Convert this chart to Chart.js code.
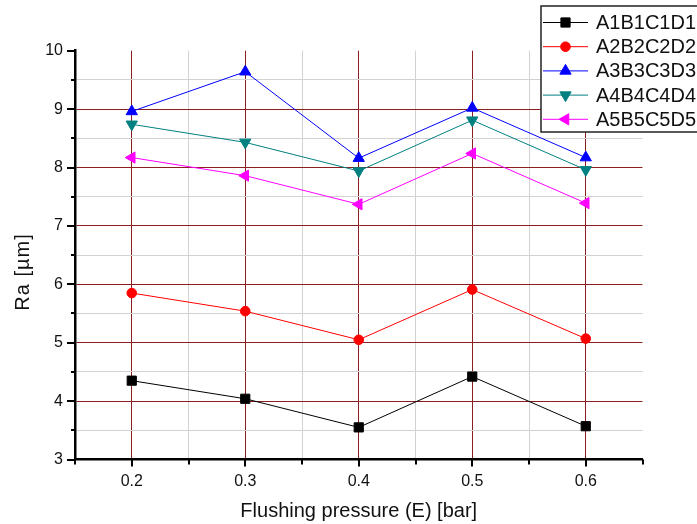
<!DOCTYPE html>
<html>
<head>
<meta charset="utf-8">
<script src="https://cdn.jsdelivr.net/npm/chart.js@4/dist/chart.umd.min.js"></script>
<style>
  html, body { margin: 0; padding: 0; background: #fff; }
</style>
</head>
<body>
<canvas id="raChart" width="697" height="524"></canvas>
<script>
// flushing pressure levels (bar)
const pressure = [0.2, 0.3, 0.4, 0.5, 0.6];

// Ra values per parameter combination
const seriesNames = ['A1B1C1D1', 'A2B2C2D2', 'A3B3C3D3', 'A4B4C4D4', 'A5B5C5D5'];
const raA1 = [4.35, 4.04, 3.55, 4.42, 3.57];
const raA2 = [5.85, 5.54, 5.05, 5.91, 5.07];
const raA3 = [8.96, 9.64, 8.16, 9.02, 8.17];
const raA4 = [8.74, 8.43, 7.94, 8.81, 7.96];
const raA5 = [8.17, 7.86, 7.37, 8.24, 7.39];

const xTicks = [0.15, 0.2, 0.25, 0.3, 0.35, 0.4, 0.45, 0.5, 0.55, 0.6, 0.65];
const yTicks = [3, 3.5, 4, 4.5, 5, 5.5, 6, 6.5, 7, 7.5, 8, 8.5, 9, 9.5, 10];

const FONT = "'Liberation Sans', Arial, sans-serif";
const MAJOR = '#8b1e1e';
const MINOR = '#d2d2d2';

const isTenth = v => Math.abs(v * 10 - Math.round(v * 10)) < 1e-6;
const isWhole = v => Math.abs(v - Math.round(v)) < 1e-6;

function makeSet(i, values, color, style, radius, rotation) {
    return {
        label: seriesNames[i],
        data: pressure.map((x, k) => ({ x: x, y: values[k] })),
        borderColor: color,
        backgroundColor: color,
        borderWidth: 1,
        pointStyle: style,
        pointRadius: radius,
        pointRotation: rotation,
        pointBorderWidth: 1,
        tension: 0
    };
}

// outward tick marks: long on labelled values, short in between
const axisTicks = {
    id: 'axisTicks',
    afterDraw(chart) {
        const ctx = chart.ctx;
        const xs = chart.scales.x, ys = chart.scales.y;
        const area = chart.chartArea;
        ctx.save();
        ctx.strokeStyle = '#000';
        ctx.lineWidth = 2;
        ctx.beginPath();
        xTicks.forEach(v => {
            const px = Math.round(xs.getPixelForValue(v));
            const len = isTenth(v) ? 7 : 5;
            ctx.moveTo(px, area.bottom);
            ctx.lineTo(px, area.bottom + len);
        });
        yTicks.forEach(v => {
            const py = Math.round(ys.getPixelForValue(v));
            const len = isWhole(v) ? 8 : 4;
            ctx.moveTo(area.left, py);
            ctx.lineTo(area.left - len, py);
        });
        ctx.stroke();

        // vertical axis title
        ctx.translate(23, 272);
        ctx.rotate(-Math.PI / 2);
        ctx.fillStyle = '#111';
        ctx.font = '20px ' + FONT;
        ctx.letterSpacing = '1px';
        ctx.textAlign = 'center';
        ctx.textBaseline = 'middle';
        ctx.fillText('Ra [µm]', 0, 0);
        ctx.restore();
    }
};

// boxed legend in the top-right corner, drawn over the plot
const boxLegend = {
    id: 'boxLegend',
    afterDraw(chart) {
        const ctx = chart.ctx;
        const left = 541, top = 6, right = 700, bottom = 132;
        ctx.save();
        ctx.fillStyle = '#fff';
        ctx.fillRect(left, top, right - left, bottom - top);
        ctx.strokeStyle = '#222';
        ctx.lineWidth = 1.5;
        ctx.strokeRect(left, top, right - left, bottom - top);
        chart.data.datasets.forEach((ds, i) => {
            const y = 22.5 + i * 24.2;
            ctx.strokeStyle = ds.borderColor;
            ctx.lineWidth = 1;
            ctx.beginPath();
            ctx.moveTo(543, y);
            ctx.lineTo(588, y);
            ctx.stroke();
            ctx.fillStyle = ds.backgroundColor;
            Chart.helpers.drawPoint(ctx, {
                pointStyle: ds.pointStyle,
                rotation: ds.pointRotation,
                radius: ds.pointRadius,
                borderWidth: 1
            }, 565.5, y);
            ctx.fillStyle = '#111';
            ctx.font = '20px ' + FONT;
            ctx.textBaseline = 'middle';
            ctx.textAlign = 'left';
            ctx.fillText(ds.label, 596, y + 1);
        });
        ctx.restore();
    }
};

new Chart(document.getElementById('raChart'), {
    type: 'line',
    data: {
        datasets: [
            makeSet(0, raA1, '#000000', 'rect', 6.5, 0),
            makeSet(1, raA2, '#ff0000', 'circle', 4.8, 0),
            makeSet(2, raA3, '#0000ff', 'triangle', 6.5, 0),
            makeSet(3, raA4, '#008080', 'triangle', 6.5, 180),
            makeSet(4, raA5, '#ff00ff', 'triangle', 6.5, 270)
        ]
    },
    options: {
        responsive: false,
        animation: false,
        layout: { padding: { left: 0, right: 54.5, top: 50.7, bottom: 0 } },
        plugins: {
            legend: { display: false },
            tooltip: { enabled: false }
        },
        scales: {
            x: {
                type: 'linear',
                min: 0.15,
                max: 0.65,
                afterBuildTicks: s => { s.ticks = xTicks.map(v => ({ value: v })); },
                afterFit: s => { s.height = 64.5; },
                ticks: {
                    autoSkip: false,
                    maxRotation: 0,
                    padding: 5,
                    color: '#111',
                    font: { family: FONT, size: 16 },
                    callback: v => (isTenth(v) && v > 0.17 && v < 0.63) ? v.toFixed(1) : ''
                },
                grid: {
                    color: c => {
                        const v = c.tick.value;
                        if (v > 0.64 || v < 0.16) return 'rgba(0,0,0,0)';
                        return isTenth(v) ? MAJOR : MINOR;
                    },
                    lineWidth: 1,
                    tickLength: 7,
                    tickColor: 'rgba(0,0,0,0)'
                },
                border: { display: true, color: '#000', width: 2.5 },
                title: {
                    display: true,
                    text: 'Flushing pressure (E) [bar]',
                    color: '#111',
                    font: { family: FONT, size: 20 },
                    padding: { top: 0, bottom: 1 }
                }
            },
            y: {
                type: 'linear',
                min: 3,
                max: 10,
                afterBuildTicks: s => { s.ticks = yTicks.map(v => ({ value: v })); },
                afterFit: s => { s.width = 75; },
                ticks: {
                    autoSkip: false,
                    padding: 4,
                    color: '#111',
                    font: { family: FONT, size: 16 },
                    callback: v => isWhole(v) ? String(Math.round(v)) : ''
                },
                grid: {
                    color: c => {
                        const v = c.tick.value;
                        if (v > 9.9 || v < 3.1) return 'rgba(0,0,0,0)';
                        return isWhole(v) ? MAJOR : MINOR;
                    },
                    lineWidth: 1,
                    tickLength: 8,
                    tickColor: 'rgba(0,0,0,0)'
                },
                border: { display: true, color: '#000', width: 2.5 }
            }
        }
    },
    plugins: [axisTicks, boxLegend]
});
</script>
</body>
</html>
